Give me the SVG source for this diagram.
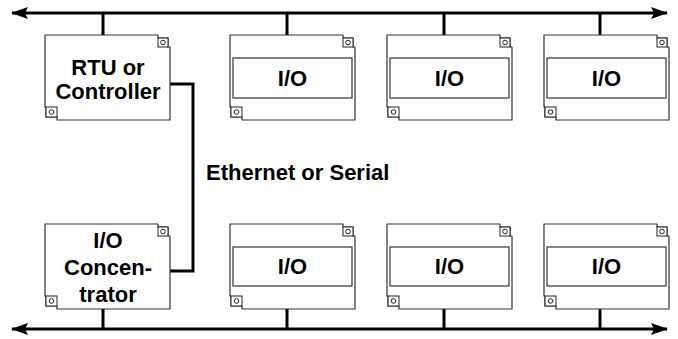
<svg xmlns="http://www.w3.org/2000/svg" width="678" height="339" viewBox="0 0 678 339">
<defs>
<style>
.box{fill:#fff;stroke:#333;stroke-width:1.2;stroke-linejoin:round}
.inner{fill:#fff;stroke:#333;stroke-width:1.2}
.sq{fill:#fff;stroke:#222;stroke-width:1}
.dot{fill:#fff;stroke:#222;stroke-width:1}
.ln{stroke:#000;stroke-width:3;fill:none}
.t{font-family:"Liberation Sans",Arial,sans-serif;font-weight:bold;font-size:22px;fill:#000;text-anchor:middle}
</style>
<marker id="ah" viewBox="0 0 17 12" refX="16" refY="6" markerWidth="17" markerHeight="12" markerUnits="userSpaceOnUse" orient="auto-start-reverse">
<path d="M0,0 L17,6 L0,12 L3,6 Z" fill="#000"/>
</marker>
<g id="shell">
<path class="box" d="M0,0 H113 V3 H123 V12 H125 V85 H12 V82 H1 V72 H0 Z"/>
<rect class="sq" x="113" y="3" width="10" height="9"/>
<circle class="dot" cx="118" cy="7.5" r="2.3"/>
<rect class="sq" x="1" y="72" width="11" height="10"/>
<circle class="dot" cx="6.5" cy="77" r="2.3"/>
</g>
</defs>
<g id="connectors">
<line class="ln" x1="12" y1="13" x2="667" y2="13" marker-start="url(#ah)" marker-end="url(#ah)"/>
<line class="ln" x1="12" y1="329" x2="667" y2="329" marker-start="url(#ah)" marker-end="url(#ah)"/>
<line class="ln" x1="103" y1="13" x2="103" y2="35"/>
<line class="ln" x1="287" y1="13" x2="287" y2="35"/>
<line class="ln" x1="444" y1="13" x2="444" y2="35"/>
<line class="ln" x1="600" y1="13" x2="600" y2="35"/>
<line class="ln" x1="103" y1="309" x2="103" y2="329"/>
<line class="ln" x1="287" y1="309" x2="287" y2="329"/>
<line class="ln" x1="444" y1="309" x2="444" y2="329"/>
<line class="ln" x1="600" y1="309" x2="600" y2="329"/>
<path class="ln" d="M170,84 H193 V271 H170"/>
</g>
<g id="rtu">
<use href="#shell" x="45" y="35"/>
<text class="t" x="108" y="75">RTU or</text>
<text class="t" x="108" y="99">Controller</text>
</g>
<g id="concentrator">
<use href="#shell" x="45" y="224"/>
<text class="t" x="108" y="248">I/O</text>
<text class="t" x="108" y="275">Concen-</text>
<text class="t" x="108" y="302">trator</text>
</g>
<g id="io1">
<use href="#shell" x="230" y="35"/>
<rect class="inner" x="233" y="58" width="119" height="40"/>
<text class="t" x="292.5" y="86">I/O</text>
</g>
<g id="io2">
<use href="#shell" x="387" y="35"/>
<rect class="inner" x="390" y="58" width="119" height="40"/>
<text class="t" x="449.5" y="86">I/O</text>
</g>
<g id="io3">
<use href="#shell" x="544" y="35"/>
<rect class="inner" x="547" y="58" width="119" height="40"/>
<text class="t" x="606.5" y="86">I/O</text>
</g>
<g id="io4">
<use href="#shell" x="230" y="224"/>
<rect class="inner" x="233" y="247" width="119" height="39"/>
<text class="t" x="292.5" y="274">I/O</text>
</g>
<g id="io5">
<use href="#shell" x="387" y="224"/>
<rect class="inner" x="390" y="247" width="119" height="39"/>
<text class="t" x="449.5" y="274">I/O</text>
</g>
<g id="io6">
<use href="#shell" x="544" y="224"/>
<rect class="inner" x="547" y="247" width="119" height="39"/>
<text class="t" x="606.5" y="274">I/O</text>
</g>
<g id="label">
<text class="t" x="206" y="180" style="text-anchor:start">Ethernet or Serial</text>
</g>
</svg>
